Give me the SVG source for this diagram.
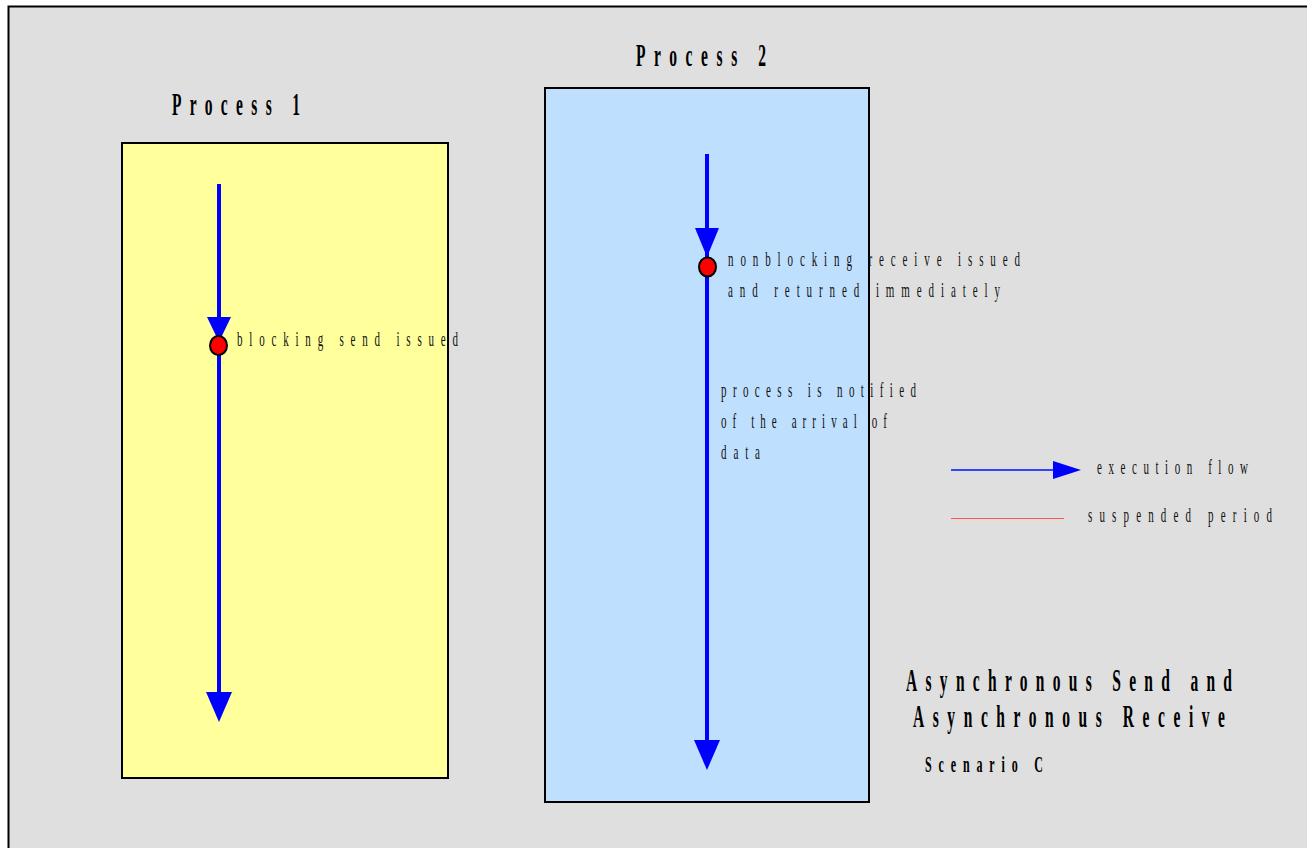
<svg xmlns="http://www.w3.org/2000/svg" width="1307" height="848" viewBox="0 0 1307 848">
<defs>
<style>
.frame{fill:#dfdfdf;stroke:#000;stroke-width:2}
.border{fill:none;stroke:#000;stroke-width:2}
.t{font-family:"Liberation Serif","Times New Roman",serif;fill:#111;font-size:22px}
.b{font-family:"Liberation Serif","Times New Roman",serif;fill:#000;font-weight:bold}
.flow{stroke:#0000ff;stroke-width:4;fill:none}
.head{fill:#0000ff}
.dot{fill:#ff0000;stroke:#000;stroke-width:2}
</style>
</defs>
<rect x="0" y="0" width="1307" height="848" fill="#ffffff"/>
<rect class="frame" x="8.5" y="6.5" width="1310" height="850"/>

<g id="process1">
<rect x="122" y="143" width="326" height="635" fill="#ffff9c"/>
<text class="b" font-size="31" transform="translate(172,115) scale(0.5,1)" textLength="256" lengthAdjust="spacing">Process 1</text>
</g>
<g id="process2">
<rect x="545" y="88" width="324" height="714" fill="#bfdfff"/>
<text class="b" font-size="31" transform="translate(636,66) scale(0.5,1)" textLength="260" lengthAdjust="spacing">Process 2</text>
</g>

<g id="connectors">
<line class="flow" x1="219" y1="184" x2="219" y2="694"/>
<polygon class="head" points="207,317 231,317 219,342"/>
<polygon class="head" points="206,692 232,692 219,722"/>
<line class="flow" x1="707" y1="154" x2="707" y2="742"/>
<polygon class="head" points="695,228 719,228 707,257"/>
<polygon class="head" points="694,740 720,740 707,770"/>
</g>

<g id="event-send">
<ellipse class="dot" cx="218.5" cy="345.5" rx="8.5" ry="9.5"/>
<text class="t" transform="translate(237,346) scale(0.5,1)" textLength="442" lengthAdjust="spacing">blocking send issued</text>
</g>
<g id="event-receive">
<ellipse class="dot" cx="707.5" cy="267" rx="8.5" ry="9.5"/>
<text class="t" transform="translate(728,266) scale(0.5,1)" textLength="584" lengthAdjust="spacing">nonblocking receive issued</text>
<text class="t" transform="translate(728,297) scale(0.5,1)" textLength="544" lengthAdjust="spacing">and returned immediately</text>
</g>
<g id="note-notified">
<text class="t" transform="translate(721,397) scale(0.5,1)" textLength="390" lengthAdjust="spacing">process is notified</text>
<text class="t" transform="translate(721,428) scale(0.5,1)" textLength="332" lengthAdjust="spacing">of the arrival of</text>
<text class="t" transform="translate(721,459) scale(0.5,1)" textLength="78" lengthAdjust="spacing">data</text>
</g>

<rect class="border" x="122" y="143" width="326" height="635"/>
<rect class="border" x="545" y="88" width="324" height="714"/>

<g id="legend">
<line x1="951" y1="470" x2="1055" y2="470" stroke="#3344ff" stroke-width="2"/>
<polygon class="head" points="1053,461 1053,479 1081,470"/>
<text class="t" transform="translate(1097,474) scale(0.5,1)" textLength="302" lengthAdjust="spacing">execution flow</text>
<line x1="951" y1="518.5" x2="1064" y2="518.5" stroke="#ff5555" stroke-width="1"/>
<text class="t" transform="translate(1088,522) scale(0.5,1)" textLength="368" lengthAdjust="spacing">suspended period</text>
</g>

<g id="title">
<text class="b" font-size="31" transform="translate(906,691) scale(0.5,1)" textLength="652" lengthAdjust="spacing">Asynchronous Send and</text>
<text class="b" font-size="31" transform="translate(913,727) scale(0.5,1)" textLength="624" lengthAdjust="spacing">Asynchronous Receive</text>
<text class="b" font-size="24" transform="translate(925,772) scale(0.5,1)" textLength="236" lengthAdjust="spacing">Scenario C</text>
</g>
</svg>
